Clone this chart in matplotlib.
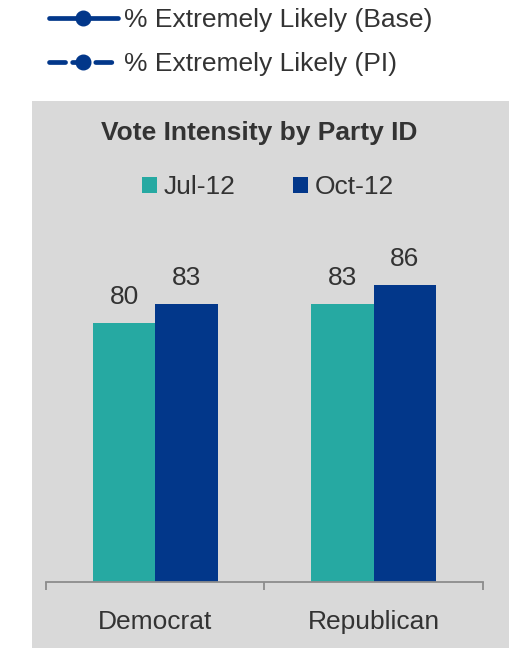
import matplotlib
matplotlib.use('Agg')
import matplotlib.pyplot as plt
from matplotlib.lines import Line2D
from matplotlib.patches import Rectangle
import numpy as np

# data
parties = ['Democrat', 'Republican']
jul_12 = [80, 83]
oct_12 = [83, 86]
series_labels = ['Jul-12', 'Oct-12']
line_legend_labels = ['% Extremely Likely (Base)', '% Extremely Likely (PI)']

TEAL = '#26A9A2'
NAVY = '#02378A'
BG = '#D9D9D9'
TXT = '#333333'
AXIS = '#8C8C8C'

plt.rcParams['font.family'] = ['Liberation Sans', 'DejaVu Sans']

W, H = 510, 648
fig = plt.figure(figsize=(W / 100, H / 100), dpi=100)

# grey chart area
fig.add_artist(Rectangle((32 / W, 0), 1 - 32 / W, 1 - 101 / H,
                         transform=fig.transFigure, facecolor=BG,
                         edgecolor='none', zorder=-1))

# line legend above the grey box
handles = [
    Line2D([0], [0], color=NAVY, lw=3.4, marker='o', markersize=10.5,
           solid_capstyle='round'),
    Line2D([0], [0], color=NAVY, lw=3.4, marker='o', markersize=10.5,
           linestyle=(0, (3.4, 1.5)), dash_capstyle='round'),
]
fig.legend(handles, line_legend_labels, loc='upper left',
           bbox_to_anchor=(36 / W, 1 + 5 / H), frameon=False,
           fontsize=19, labelcolor=TXT, handlelength=2.6,
           handletextpad=0.25, labelspacing=0.75, borderpad=0,
           numpoints=1)

# bar axes
ax = fig.add_axes([46 / W, (H - 582) / H, 437 / W, 387 / H])
ax.set_facecolor('none')
x = np.arange(len(parties))
w = 0.285
b1 = ax.bar(x - w / 2, jul_12, w, color=TEAL, label=series_labels[0])
b2 = ax.bar(x + w / 2, oct_12, w, color=NAVY, label=series_labels[1])
for bars, vals in [(b1, jul_12), (b2, oct_12)]:
    for bar, v in zip(bars, vals):
        ax.annotate(f'{v}', (bar.get_x() + bar.get_width() / 2, v),
                    xytext=(0, 13.5), textcoords='offset points',
                    ha='center', va='baseline', fontsize=19, color=TXT)

ax.set_xlim(-0.5, 1.5)
ax.set_ylim(39.6, 100)
for sp in ['top', 'left', 'right']:
    ax.spines[sp].set_visible(False)
ax.spines['bottom'].set_color(AXIS)
ax.spines['bottom'].set_linewidth(1.3)
ax.set_yticks([])
ax.set_xticks(x)
ax.set_xticklabels(parties, fontsize=19, color=TXT)
ax.set_xticks([-0.5, 0.5, 1.5], minor=True)
ax.tick_params(axis='x', which='major', length=0, pad=20)
ax.tick_params(axis='x', which='minor', length=5.8, width=1.3, color=AXIS)

fig.text(259 / W, 1 - 133 / H, 'Vote Intensity by Party ID',
         ha='center', va='center', fontsize=19, fontweight='bold', color=TXT)

ax.legend(loc='center', bbox_to_anchor=(268 / W, 1 - 187 / H),
          bbox_transform=fig.transFigure, ncol=2, frameon=False,
          fontsize=19, labelcolor=TXT, handlelength=0.55, handleheight=0.55,
          handletextpad=0.25, columnspacing=2.2, borderpad=0)

fig.savefig('out.png', dpi=100, facecolor='white')
